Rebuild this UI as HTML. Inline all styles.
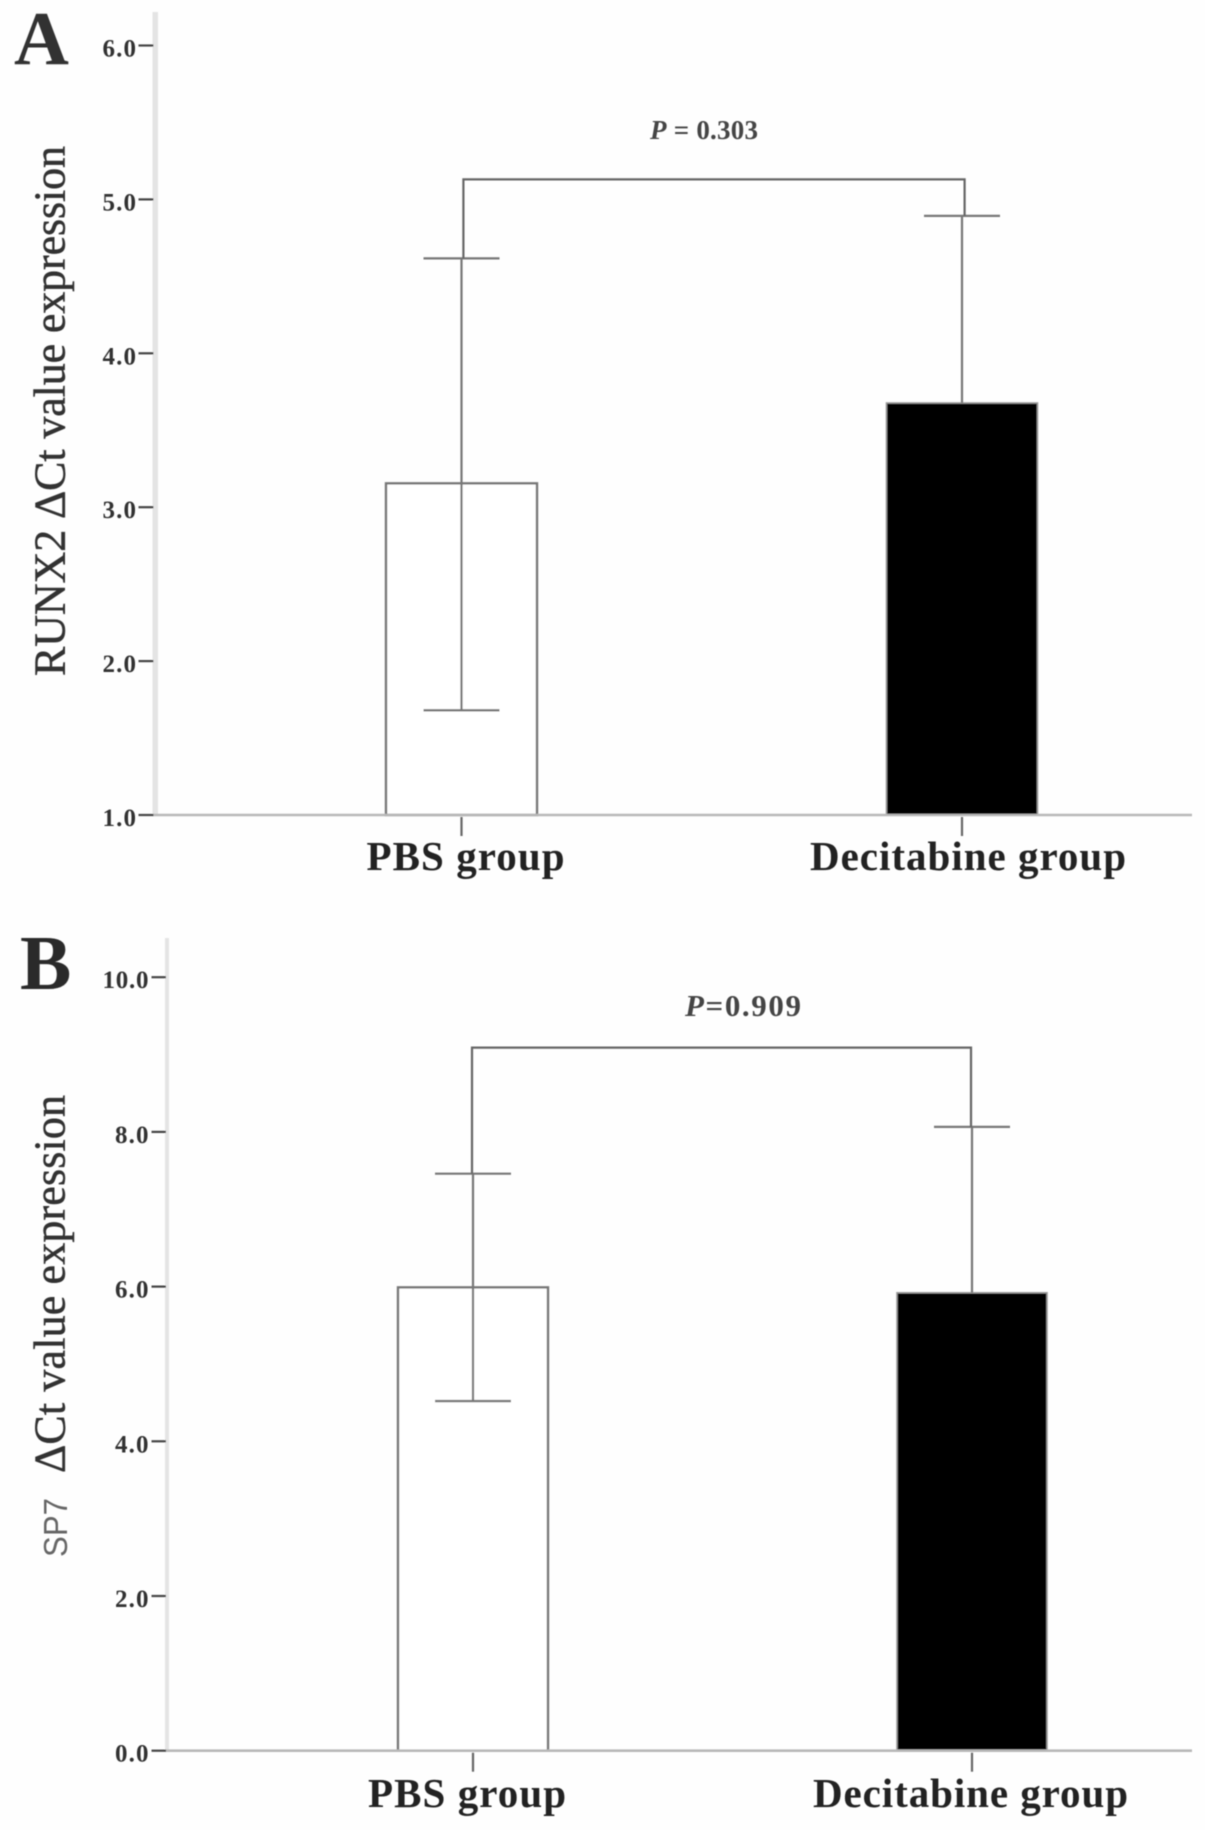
<!DOCTYPE html>
<html lang="en">
<head>
<meta charset="utf-8">
<title>RUNX2 and SP7 delta Ct expression</title>
<style>
  html, body { margin: 0; padding: 0; background: #fefefe; }
  body { width: 1205px; height: 1830px; overflow: hidden; }
  svg { display: block; }
  text { font-family: "Liberation Serif", "DejaVu Serif", serif; }
</style>
</head>
<body>
<svg id="chart" xmlns="http://www.w3.org/2000/svg" width="1205" height="1830" viewBox="0 0 1205 1830">
  <defs>
    <filter id="soft" x="-2%" y="-2%" width="104%" height="104%">
      <feGaussianBlur stdDeviation="0.6"></feGaussianBlur>
    </filter>
  </defs>
  <rect x="0" y="0" width="1205" height="1830" fill="#fefefe"></rect>
  <g id="root" filter="url(#soft)"></g>
</svg>
<script>
// Shared categories
const categories = ['PBS group', 'Decitabine group'];

// Panel A data
const meansA = [3.155, 3.677];
const errorHighA = [4.617, 4.893];
const errorLowA = [1.68];
const tickValuesA = [1, 2, 3, 4, 5, 6];
const tickLabelsA = ['1.0', '2.0', '3.0', '4.0', '5.0', '6.0'];
const bracketLevelA = [5.13];

// Panel B data
const meansB = [5.99, 5.92];
const errorHighB = [7.46, 8.065];
const errorLowB = [4.52];
const tickValuesB = [0, 2, 4, 6, 8, 10];
const tickLabelsB = ['0.0', '2.0', '4.0', '6.0', '8.0', '10.0'];
const bracketLevelB = [9.09];

const NS = 'http://www.w3.org/2000/svg';
const root = document.getElementById('root');

function shape(tag, geometry) {
  const el = document.createElementNS(NS, tag);
  Object.keys(geometry).forEach(function (k) { el.setAttribute(k, geometry[k]); });
  root.appendChild(el);
  return el;
}

function drawPanel(p) {
  const yOf = function (v) { return p.y0 - (v - p.v0) * p.pxPerUnit; };
  const xOf = function (i) { return p.centers[i]; };

  // y axis band
  const yAxis = shape('rect', { x: p.axisX, y: p.axisTop, width: p.axisW, height: p.y0 - p.axisTop, fill: '#e4e4e4' });
  
  

  // bars
  p.means.forEach(function (m, i) {
    const bar = shape('rect', {
      x: xOf(i) - p.barHalf, y: yOf(m), width: p.barHalf * 2, height: p.y0 - yOf(m),
      fill: i === 0 ? '#ffffff' : '#000000', stroke: i === 0 ? '#777777' : '#999999', 'stroke-width': i === 0 ? 2.4 : 1.6
    });
    
    
  });

  // x axis line
  const xAxis = shape('line', { x1: p.axisX, y1: p.y0, x2: 1192, y2: p.y0, stroke: '#b8b8b8', 'stroke-width': 2.6 });
  
  

  // y ticks + labels
  p.tickValues.forEach(function (v, i) {
    const t = shape('line', { x1: p.tickX1, y1: yOf(v), x2: p.axisX + 1, y2: yOf(v), stroke: '#444444', 'stroke-width': 2.2 });
    
    
    const label = shape('text', {
      x: p.labelX, y: yOf(v) + 11, 'text-anchor': 'end', 'font-size': 25, 'font-weight': 'bold', fill: '#333333',
      textLength: p.tickLabels[i].length === 4 ? 46 : 33.5, lengthAdjust: 'spacing'
    });
    label.textContent = p.tickLabels[i];
    
    
  });

  // x ticks + labels
  categories.forEach(function (c, i) {
    const t = shape('line', { x1: xOf(i), y1: p.y0 + 2, x2: xOf(i), y2: p.y0 + 21, stroke: '#666666', 'stroke-width': 2.2 });
    
    
    const label = shape('text', {
      x: p.catX[i], y: p.catY, 'font-size': 41, 'font-weight': 'bold', fill: '#222222',
      textLength: p.catW[i], lengthAdjust: 'spacing'
    });
    label.textContent = c;
    
    
  });

  // error bars
  p.errorHigh.forEach(function (hi, i) {
    const lowVal = i < p.errorLow.length ? p.errorLow[i] : p.means[i];
    const stem = shape('line', { x1: xOf(i), y1: yOf(hi), x2: xOf(i), y2: yOf(lowVal), stroke: '#777777', 'stroke-width': 2.2 });
    
    
    const capHi = shape('line', { x1: xOf(i) - p.capHalf, y1: yOf(hi), x2: xOf(i) + p.capHalf, y2: yOf(hi), stroke: '#777777', 'stroke-width': 2.2 });
    
    
    if (i < p.errorLow.length) {
      const capLo = shape('line', { x1: xOf(i) - p.capHalf, y1: yOf(lowVal), x2: xOf(i) + p.capHalf, y2: yOf(lowVal), stroke: '#777777', 'stroke-width': 2.4 });
      
      
    }
  });

  // significance bracket
  const by = yOf(p.bracket[0]);
  const bracket = shape('polyline', {
    points: [p.bracketL, yOf(p.errorHigh[0]), p.bracketL, by, p.bracketR, by, p.bracketR, yOf(p.errorHigh[1])].join(' '),
    fill: 'none', stroke: '#666666', 'stroke-width': 2.2
  });
  
  
}

drawPanel({
  id: 'a', v0: 1, y0: 815, pxPerUnit: 153.9, axisX: 152.5, axisW: 5.5, axisTop: 12,
  centers: [461.5, 962], barHalf: 75.5, capHalf: 38,
  means: meansA, errorHigh: errorHighA, errorLow: errorLowA,
  tickValues: tickValuesA, tickLabels: tickLabelsA, bracket: bracketLevelA,
  tickX1: 138.5, labelX: 136, catX: [366.5, 810], catW: [198, 316], catY: 870,
  bracketL: 463.4, bracketR: 964.6
});

drawPanel({
  id: 'b', v0: 0, y0: 1750.7, pxPerUnit: 77.35, axisX: 165, axisW: 4, axisTop: 938,
  centers: [473, 972], barHalf: 75, capHalf: 38,
  means: meansB, errorHigh: errorHighB, errorLow: errorLowB,
  tickValues: tickValuesB, tickLabels: tickLabelsB, bracket: bracketLevelB,
  tickX1: 151.5, labelX: 148.5, catX: [368, 813], catW: [198, 315], catY: 1807,
  bracketL: 472, bracketR: 971
});
</script>
<svg xmlns="http://www.w3.org/2000/svg" width="1205" height="1830" viewBox="0 0 1205 1830" style="position:absolute;left:0;top:0">
  <g filter="url(#soft)">
    <text x="14" y="64" font-size="76" font-weight="bold" fill="#333333">A</text>
    <text x="20" y="989" font-size="77" font-weight="bold" fill="#2a2a2a">B</text>

    <text transform="translate(64.5 676) rotate(-90)" font-size="44" fill="#333333" stroke="#333333" stroke-width="0.5" textLength="530" lengthAdjust="spacing">RUNX2 ΔCt value expression</text>
    <text transform="translate(64.5 1473) rotate(-90)" font-size="44" fill="#333333" stroke="#333333" stroke-width="0.5" textLength="378" lengthAdjust="spacing">ΔCt value expression</text>
    <text transform="translate(67 1557) rotate(-90)" font-size="33" fill="#666666" style="font-family:'Liberation Sans',sans-serif" textLength="59" lengthAdjust="spacingAndGlyphs">SP7</text>

    <text x="650" y="139" font-size="27" font-weight="bold" fill="#444444" textLength="108" lengthAdjust="spacing"><tspan font-style="italic">P</tspan> = 0.303</text>
    <text x="685" y="1016" font-size="31" font-weight="bold" fill="#444444" textLength="116" lengthAdjust="spacing"><tspan font-style="italic">P</tspan>=0.909</text>
  </g>
</svg>
</body>
</html>
